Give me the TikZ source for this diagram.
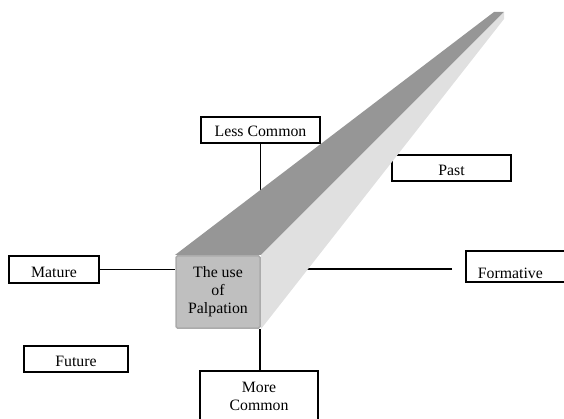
\documentclass[tikz,border=0pt]{standalone}
\usepackage{fontspec}
\setmainfont{Liberation Serif}
\usepackage{xcolor}

\tikzset{
  topic/.style={draw,line width=1.7pt,fill=white,inner sep=0pt,
    minimum height=26pt,text depth=0pt,text height=#1,
    font=\fontsize{15.8}{18}\selectfont},
  topic/.default=14pt,
  link/.style={line width=1.5pt},
  frontside/.style={fill=black!25,draw=black!33,line width=1.5pt,
    rounded corners=1.5pt,align=center,inner sep=0pt,
    minimum width=84pt,minimum height=72pt,
    font=\fontsize{15.8}{18}\selectfont},
  topside/.style={fill=black!41},
  rightside/.style={fill=black!12}
}

\begin{document}
\begin{tikzpicture}[x=1pt,y=-1pt]
    \clip (0,0) rectangle (564,419);
    % corners of the bar
    \coordinate (fnw) at (175,255);
    \coordinate (fse) at (261,329);
    \coordinate (tipl) at (494,12);
    \coordinate (tipr) at (504,12);
    \coordinate (tipd) at (504,19);
    \coordinate (fmend) at (452,269);

    \node[topic] (less) at (260.5,130) [minimum width=119pt] {Less Common};
    \node[topic=16pt] (past) at (451.5,168) [minimum width=119pt] {Past};
    \node[topic=16pt] (mature) at (54,269.5) [minimum width=90pt,minimum height=27pt] {Mature};
    \node[topic=15pt] (future) at (76,359) [minimum width=104pt] {Future};
    \node[topic=24pt] (formative) at (465,266.5) [anchor=west,minimum height=31pt,
      inner xsep=12pt,text width=86pt,align=left] {Formative};
    \node[topic=11pt] (more) at (259,370) [anchor=north,minimum width=118pt,
      minimum height=69pt,align=center] {More\\Common};

    % lines behind the bar
    \draw[link] (less) -- (less |- fnw);
    \draw[link] (fmend) -- (fmend -| fse);

    % the bar
    \fill[topside] (fnw) -- (fnw -| fse) -- (tipr) -- (tipl) -- cycle;
    \fill[rightside] (fnw -| fse) -- (fse) -- (tipd) -- (tipr) -- cycle;
    \node[frontside] (face) at (218,292) {The use\\of\\Palpation};

    \draw[link] (mature) -- (mature -| face.west);
    \draw[link] (more.north -| 260,0) -- (face.south -| 260,0);
\end{tikzpicture}
\end{document}
